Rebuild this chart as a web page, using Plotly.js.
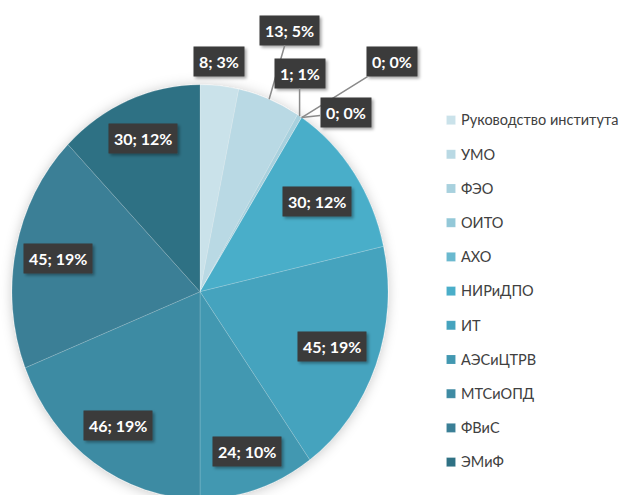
<!DOCTYPE html>
<html><head><meta charset="utf-8">
<script src="https://cdn.plot.ly/plotly-3.0.1.min.js"></script>
<style>html,body{margin:0;padding:0;background:#fff}#chart{width:622px;height:495px}</style>
</head><body><div id="chart"></div>
<script>
// ---- data ----
const categories = ['Руководство института','УМО','ФЭО','ОИТО','АХО','НИРиДПО','ИТ','АЭСиЦТРВ','МТСиОПД','ФВиС','ЭМиФ'];
const values = [8, 13, 1, 0, 0, 30, 45, 24, 46, 45, 30];
const percentLabels = ['3%','5%','1%','0%','0%','12%','19%','10%','19%','19%','12%'];

// ---- styles ----
const sliceColors = ['#cae2ea','#b9d9e4','#a8d1de','#93c8d8','#6ab9cf','#4aaec9','#45a3be','#4298b1','#3e8ba3','#3a7f96','#2f7184'];
const W = 622, H = 495;
const domX = [12/W, 388/W];
const domY = [1 - 479.7/H, 1 - 103.7/H];
const stretch = 1.101;
const labelFont = 'Lato, Roboto, sans-serif';
// label placement: k = fraction of radius; offsets in px for outside labels
const placement = [
  {k:1, yshift:24},
  {k:1, ax:20, ay:-69},
  {k:1, ax:0, ay:-43},
  {k:1, ax:90, ay:-56},
  {k:1, ax:44, ay:-5},
  {k:0.76},{k:0.75},{k:0.81},{k:0.78},{k:0.77},{k:0.8}
];

const cx = W*(domX[0]+domX[1])/2;
const cy = H*(1-(domY[0]+domY[1])/2);
const R = Math.min(W*(domX[1]-domX[0]), H*(domY[1]-domY[0]))/2;
const total = values.reduce((a,b)=>a+b,0);
let cum = 0;
const annotations = values.map((v,i)=>{
  const a = (cum + v/2)/total*2*Math.PI; cum += v;
  const p = placement[i];
  const px = cx + R*p.k*Math.sin(a);
  const py = cy - R*stretch*p.k*Math.cos(a);
  const ann = {
    xref:'paper', yref:'paper', x:px/W, y:1-py/H,
    text: v + '; ' + percentLabels[i],
    font:{family:labelFont, size:16, color:'#ffffff', weight:'bold'},
    bgcolor:'#3b3b3b', borderpad:5, showarrow:false, xanchor:'center', yanchor:'middle'
  };
  if (p.ax !== undefined) {
    Object.assign(ann, {showarrow:true, ax:p.ax, ay:p.ay, arrowhead:0, arrowwidth:1.5, arrowcolor:'#8a8a8a', standoff:0, xanchor:'auto', yanchor:'auto'});
  }
  if (p.yshift) ann.yshift = p.yshift;
  return ann;
});

const data = [{
  type:'pie',
  labels: categories.map(c=>'<span style="font-size:14.5px">'+c+'</span>'),
  values: values,
  sort:false, direction:'clockwise', rotation:0,
  textinfo:'none', hoverinfo:'label+value+percent',
  domain:{x:domX, y:domY},
  marker:{colors:sliceColors, line:{color:'rgba(255,255,255,0.25)', width:0.6}}
}];
const layout = {
  width:W, height:H, margin:{l:0,r:0,t:0,b:0,autoexpand:false},
  paper_bgcolor:'#ffffff', showlegend:true,
  legend:{x:431/W, xanchor:'left', y:1-98/H, yanchor:'top', bgcolor:'rgba(0,0,0,0)',
    font:{family:labelFont, size:24, color:'#404040'}},
  annotations: annotations
};
Plotly.newPlot('chart', data, layout, {staticPlot:true}).then(gd=>{
  const NS = 'http://www.w3.org/2000/svg';
  const svg = gd.querySelector('svg.main-svg');
  const defs = document.createElementNS(NS, 'defs');
  defs.innerHTML =
    '<filter id="pieShadow" x="-20%" y="-20%" width="140%" height="140%">' +
    '<feDropShadow dx="0" dy="1" stdDeviation="6" flood-color="#000" flood-opacity="0.22"/></filter>' +
    '<filter id="boxShadow" x="-20%" y="-30%" width="150%" height="170%">' +
    '<feDropShadow dx="2" dy="2" stdDeviation="1.5" flood-color="#000" flood-opacity="0.35"/></filter>';
  svg.insertBefore(defs, svg.firstChild);
  const pl = gd.querySelector('.pielayer');
  if (pl) {
    pl.setAttribute('transform', `translate(0,${cy}) scale(1,${stretch}) translate(0,${-cy})`);
    pl.setAttribute('filter', 'url(#pieShadow)');
  }
  gd.querySelectorAll('.annotation rect.bg').forEach(r=>r.setAttribute('filter','url(#boxShadow)'));
  gd.querySelectorAll('.legendtext').forEach(t=>{
    t.setAttribute('x', 30);
    t.setAttribute('y', parseFloat(t.getAttribute('y')) - 4);
  });
  gd.querySelectorAll('.legendpie').forEach(p=>p.setAttribute('transform','translate(20,0) scale(0.75)'));
});
</script></body></html>
